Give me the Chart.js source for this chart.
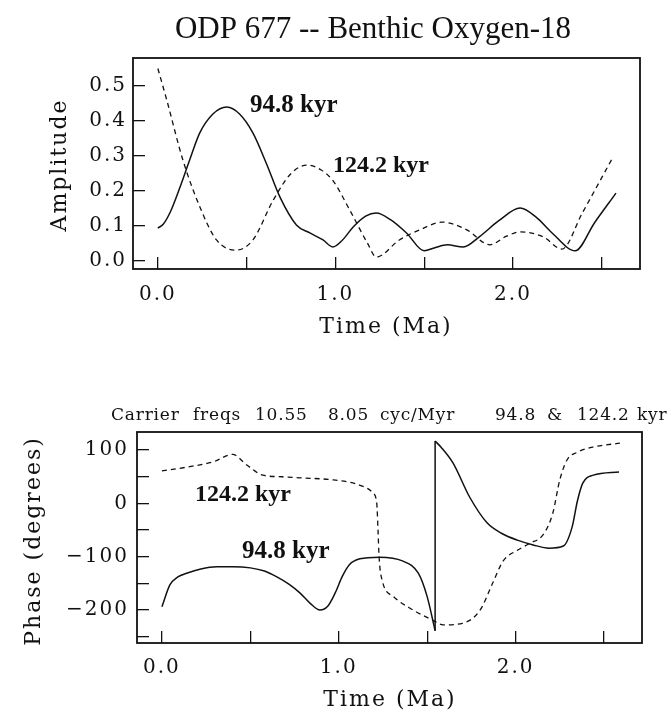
<!DOCTYPE html>
<html>
<head>
<meta charset="utf-8">
<script src="https://cdn.jsdelivr.net/npm/chart.js"></script>
<style>
  html, body { margin: 0; padding: 0; background: #fff; }
  #wrap { position: relative; width: 667px; height: 711px; }
  canvas { position: absolute; left: 0; }
  #ampChart { top: 0; width: 667px; height: 340px; }
  #phaseChart { top: 340px; width: 667px; height: 371px; }
</style>
</head>
<body>
<div id="wrap">
  <canvas id="ampChart" width="667" height="340"></canvas>
  <canvas id="phaseChart" width="667" height="371"></canvas>
</div>
<script>
// amplitude, 94.8 kyr (solid)
const ampTime948 = [0, 0.03, 0.07, 0.124, 0.18, 0.236, 0.31, 0.388, 0.46, 0.535, 0.61, 0.687, 0.78, 0.856, 0.93, 0.985,
  1.04, 1.1, 1.17, 1.23, 1.31, 1.40, 1.50, 1.56, 1.63, 1.72, 1.81, 1.92, 2.04, 2.13, 2.22, 2.35, 2.46, 2.58];
const amp948 = [0.094, 0.105, 0.14, 0.21, 0.29, 0.366, 0.42, 0.44, 0.42, 0.366, 0.28, 0.183, 0.103, 0.08, 0.06, 0.04,
  0.06, 0.097, 0.128, 0.137, 0.118, 0.08, 0.029, 0.038, 0.046, 0.04, 0.069, 0.115, 0.151, 0.125, 0.08, 0.029, 0.11, 0.194];

// amplitude, 124.2 kyr (dashed)
const ampTime1242 = [0, 0.05, 0.14, 0.236, 0.33, 0.44, 0.535, 0.65, 0.75, 0.84, 0.92, 0.985, 1.08, 1.18, 1.23,
  1.36, 1.48, 1.6, 1.74, 1.87, 1.96, 2.04, 2.17, 2.275, 2.39, 2.56];
const amp1242 = [0.55, 0.46, 0.29, 0.155, 0.06, 0.031, 0.06, 0.174, 0.25, 0.274, 0.26, 0.23, 0.146, 0.051, 0.011,
  0.06, 0.09, 0.111, 0.089, 0.046, 0.07, 0.083, 0.069, 0.034, 0.137, 0.294];

// phase, 94.8 kyr (solid), before and after the wrap at ~1.545 Ma
const phaseTime948a = [0, 0.045, 0.09, 0.14, 0.22, 0.31, 0.4, 0.5, 0.58, 0.65, 0.72, 0.78, 0.84, 0.894, 0.94, 0.98,
  1.02, 1.06, 1.12, 1.23, 1.36, 1.45, 1.50, 1.545];
const phase948a = [-194, -153, -138, -131, -123, -119, -119, -121, -127, -138, -152, -168, -188, -200, -192, -168,
  -137, -115, -104, -101, -108, -131, -175, -239];
const phaseTime948b = [1.545, 1.58, 1.646, 1.74, 1.84, 1.92, 2.01, 2.1, 2.19, 2.27, 2.32, 2.35, 2.38, 2.44, 2.585];
const phase948b = [117, 105, 76, 12, -37, -56, -69, -78, -84, -80, -44, 5, 38, 53, 59];

// phase, 124.2 kyr (dashed)
const phaseTime1242 = [0, 0.14, 0.29, 0.40, 0.48, 0.57, 0.68, 0.78, 0.97, 1.12, 1.195, 1.215, 1.222, 1.228, 1.245,
  1.31, 1.42, 1.53, 1.59, 1.70, 1.80, 1.87, 1.93, 2.01, 2.08, 2.155, 2.21, 2.25, 2.29, 2.35, 2.44, 2.59];
const phase1242 = [61, 68, 78, 92, 72, 53, 50, 48, 44, 34, 19, 0, -50, -100, -144,
  -175, -200, -219, -228, -225, -200, -150, -108, -88, -75, -59, -19, 44, 81, 96, 106, 113];

const timeTicks = [0, 0.5, 1, 1.5, 2, 2.5];
const timeTickLabels = ['0.0', '', '1.0', '', '2.0', ''];
const ampTicks = [0, 0.1, 0.2, 0.3, 0.4, 0.5];
const ampTickLabels = ['0.0', '0.1', '0.2', '0.3', '0.4', '0.5'];
const phaseTicks = [-250, -200, -150, -100, -50, 0, 50, 100];
const phaseTickLabels = ['', '\u2212200', '', '\u2212100', '', '0', '', '100'];

const subtitleWords = ['Carrier', 'freqs', '10.55', '8.05', 'cyc/Myr', '94.8', '&', '124.2', 'kyr'];
const subtitleX = [111, 193, 255, 328, 380, 495, 547, 577, 637];

const INK = '#111';
const tickFont = { family: 'DejaVu Serif', size: 20 };

const toPoints = (xs, ys) => xs.map((x, i) => ({ x, y: ys[i] }));

function line(data, dashed) {
  return {
    data,
    showLine: true,
    borderColor: INK,
    borderWidth: dashed ? 1.3 : 1.5,
    borderDash: dashed ? [5, 4] : [],
    pointRadius: 0,
    cubicInterpolationMode: 'monotone',
    fill: false
  };
}

function timeAxis(min, height, pad) {
  return {
    type: 'linear', min, max: 2.715,
    afterBuildTicks: s => { s.ticks = timeTicks.map(v => ({ value: v })); },
    afterFit: s => { s.height = height; },
    grid: { drawOnChartArea: false, drawTicks: true, tickLength: -12, color: INK, lineWidth: 1.3 },
    border: { display: false },
    ticks: { autoSkip: false, maxRotation: 0, padding: pad, color: INK, font: tickFont,
      callback: (v, i) => timeTickLabels[i] }
  };
}

function valueAxis(min, max, ticks, labels, width, pad) {
  return {
    type: 'linear', min, max,
    afterBuildTicks: s => { s.ticks = ticks.map(v => ({ value: v })); },
    afterFit: s => { s.width = width; },
    grid: { drawOnChartArea: false, drawTicks: true, tickLength: -12, color: INK, lineWidth: 1.3 },
    border: { display: false },
    ticks: { autoSkip: false, padding: pad, color: INK, font: tickFont,
      callback: (v, i) => labels[i] }
  };
}

function decor(texts) {
  return {
    id: 'decor',
    beforeDraw(chart) { chart.ctx.letterSpacing = '2px'; },
    afterDraw(chart) {
      const { ctx, chartArea: a } = chart;
      ctx.save();
      ctx.letterSpacing = '0px';
      ctx.strokeStyle = INK;
      ctx.lineWidth = 1.8;
      ctx.strokeRect(a.left, a.top, a.right - a.left, a.bottom - a.top);
      ctx.fillStyle = INK;
      texts.forEach(t => {
        ctx.save();
        ctx.font = t.font;
        ctx.letterSpacing = t.spacing || '0px';
        ctx.textAlign = t.align || 'left';
        ctx.textBaseline = t.baseline || 'alphabetic';
        ctx.translate(t.x, t.y);
        if (t.rotate) ctx.rotate(-Math.PI / 2);
        ctx.fillText(t.text, 0, 0);
        ctx.restore();
      });
      ctx.restore();
    }
  };
}

const labelFont = '22px "DejaVu Serif"';
const noteFont = 'bold 24px "Liberation Serif"';

new Chart(document.getElementById('ampChart'), {
  type: 'scatter',
  data: {
    datasets: [
      line(toPoints(ampTime948, amp948), false),
      line(toPoints(ampTime1242, amp1242), true)
    ]
  },
  options: {
    responsive: false,
    animation: false,
    layout: { padding: { top: 58, right: 27, left: 0, bottom: 0 } },
    plugins: { legend: { display: false }, tooltip: { enabled: false }, title: { display: false } },
    scales: {
      x: timeAxis(-0.14, 71, 26),
      y: valueAxis(-0.023, 0.58, ampTicks, ampTickLabels, 133, 18)
    }
  },
  plugins: [decor([
    { text: 'ODP 677 -- Benthic Oxygen-18', x: 373, y: 38, font: '31px "Liberation Serif"', align: 'center' },
    { text: 'Amplitude', x: 60, y: 165, font: labelFont, spacing: '2px', align: 'center', baseline: 'middle', rotate: true },
    { text: 'Time (Ma)', x: 386, y: 333, font: labelFont, spacing: '2px', align: 'center' },
    { text: '94.8 kyr', x: 250, y: 112, font: 'bold 25px "Liberation Serif"' },
    { text: '124.2 kyr', x: 333, y: 172, font: noteFont }
  ])]
});

new Chart(document.getElementById('phaseChart'), {
  type: 'scatter',
  data: {
    datasets: [
      line(toPoints(phaseTime948a, phase948a), false),
      line([
        { x: phaseTime948a[phaseTime948a.length - 1], y: phase948a[phase948a.length - 1] },
        { x: phaseTime948b[0], y: phase948b[0] }
      ], false),
      line(toPoints(phaseTime948b, phase948b), false),
      line(toPoints(phaseTime1242, phase1242), true)
    ]
  },
  options: {
    responsive: false,
    animation: false,
    layout: { padding: { top: 92, right: 25, left: 0, bottom: 0 } },
    plugins: { legend: { display: false }, tooltip: { enabled: false }, title: { display: false } },
    scales: {
      x: timeAxis(-0.141, 68, 25),
      y: valueAxis(-262, 134, phaseTicks, phaseTickLabels, 137, 20)
    }
  },
  plugins: [decor([
    ...subtitleWords.map((w, i) => ({ text: w, x: subtitleX[i], y: 80, font: '17px "DejaVu Serif"', spacing: '0.8px' })),
    { text: 'Phase (degrees)', x: 34, y: 201, font: labelFont, spacing: '2px', align: 'center', baseline: 'middle', rotate: true },
    { text: 'Time (Ma)', x: 390, y: 366, font: labelFont, spacing: '2px', align: 'center' },
    { text: '124.2 kyr', x: 195, y: 161, font: noteFont },
    { text: '94.8 kyr', x: 242, y: 218, font: 'bold 25px "Liberation Serif"' }
  ])]
});
</script>
</body>
</html>
